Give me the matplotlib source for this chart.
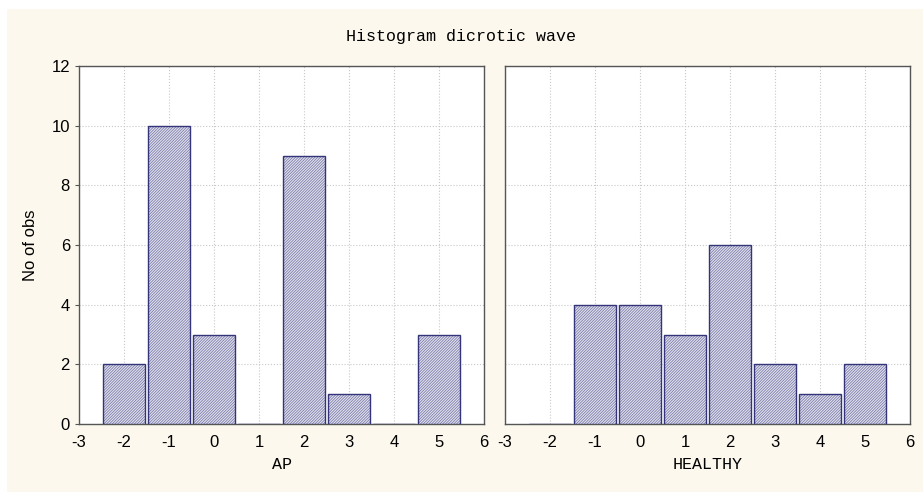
import matplotlib
matplotlib.use("Agg")
import matplotlib.pyplot as plt
from matplotlib.patches import Rectangle

bins = [-2, -1, 0, 1, 2, 3, 4, 5]
ap_counts = [2, 10, 3, 0, 9, 1, 0, 3]
healthy_counts = [0, 4, 4, 3, 6, 2, 1, 2]
xticks = [-3, -2, -1, 0, 1, 2, 3, 4, 5, 6]
yticks = [0, 2, 4, 6, 8, 10, 12]
title = "Histogram dicrotic wave"
ylabel = "No of obs"
panel_labels = ["AP", "HEALTHY"]

plt.rcParams['hatch.linewidth'] = 0.6
plt.rcParams['axes.unicode_minus'] = False

fig = plt.figure(figsize=(9.23, 4.92), dpi=100)
fig.patch.set_facecolor('white')
fig.patches.append(Rectangle((7/923, 0), 1 - 7/923, 1 - 9/492, transform=fig.transFigure,
                             facecolor='#fcf8ee', edgecolor='none', zorder=-10))

ax1 = fig.add_axes([79/923, 1 - 424/492, 405/923, 358/492])
ax2 = fig.add_axes([505/923, 1 - 424/492, 405/923, 358/492])

for ax, counts, lab in zip([ax1, ax2], [ap_counts, healthy_counts], panel_labels):
    ax.set_facecolor('white')
    # hatched fill
    ax.bar(bins, counts, width=0.94, facecolor='#e2e2f0', edgecolor='#7e7eaa',
           linewidth=0, hatch='/' * 12, zorder=3)
    # outline
    ax.bar(bins, counts, width=0.94, facecolor='none', edgecolor='#34347a',
           linewidth=1.0, zorder=4)
    ax.set_xlim(-3, 6)
    ax.set_ylim(0, 12)
    ax.set_xticks(xticks)
    ax.set_yticks(yticks)
    ax.grid(True, linestyle=':', color='#c8c8c8', linewidth=0.8, zorder=0)
    for s in ax.spines.values():
        s.set_color('#555555')
        s.set_linewidth(1.0)
    ax.tick_params(axis='both', labelsize=12, length=3, color='#555555', direction='out',
                   labelfontfamily='Liberation Sans')
    ax.set_xlabel(lab, fontfamily='Liberation Mono', fontsize=12, labelpad=5)
    ax.xaxis.set_tick_params(length=0, pad=8)

ax2.tick_params(axis='y', left=False, labelleft=False)
ax1.set_ylabel(ylabel, fontfamily='Liberation Sans', fontsize=12)
ax1.yaxis.set_label_coords(-41/405, 0.5)

fig.text(0.5, 1 - 37/492, title, ha='center', va='center',
         fontfamily='Liberation Mono', fontsize=12)

fig.savefig('out.png', dpi=100)
